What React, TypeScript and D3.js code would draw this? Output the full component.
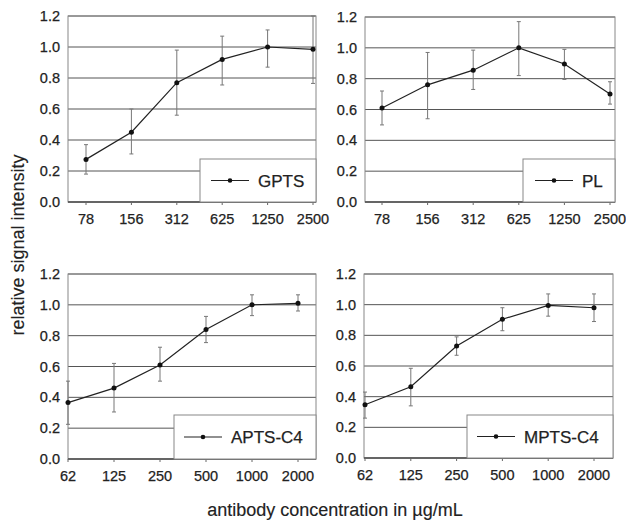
import React from "react";
import * as d3 from "d3";

// concentrations (x categories)
const ptsConc = ["78", "156", "312", "625", "1250", "2500"];
const c4Conc = ["62", "125", "250", "500", "1000", "2000"];
const yTicks = [0, 0.2, 0.4, 0.6, 0.8, 1.0, 1.2];

// GPTS
const gptsMean = [0.275, 0.45, 0.77, 0.92, 1.0, 0.985];
const gptsLow = [0.18, 0.31, 0.56, 0.755, 0.87, 0.765];
const gptsHigh = [0.37, 0.6, 0.98, 1.07, 1.11, 1.2];

// PL
const plMean = [0.61, 0.76, 0.855, 1.0, 0.895, 0.7];
const plLow = [0.5, 0.54, 0.73, 0.82, 0.795, 0.635];
const plHigh = [0.72, 0.97, 0.985, 1.17, 0.99, 0.78];

// APTS-C4
const aptsMean = [0.366, 0.46, 0.61, 0.84, 1.0, 1.01];
const aptsLow = [0.225, 0.305, 0.505, 0.755, 0.93, 0.96];
const aptsHigh = [0.505, 0.62, 0.725, 0.925, 1.065, 1.065];

// MPTS-C4
const mptsMean = [0.347, 0.465, 0.73, 0.905, 0.995, 0.98];
const mptsLow = [0.26, 0.34, 0.67, 0.83, 0.925, 0.89];
const mptsHigh = [0.43, 0.585, 0.79, 0.98, 1.07, 1.07];

const FONT = "'Liberation Sans', Arial, sans-serif";
const TXT = { fill: "#222", stroke: "#222", strokeWidth: 0.25, fontFamily: FONT };

type PanelProps = {
  name: string;
  cats: string[];
  mean: number[];
  low: number[];
  high: number[];
  plot: { x0: number; x1: number; y0: number; y1: number };
  pts: [number, number];
  legend: { x0: number; y0: number; lineX: number };
};

const Panel = ({ name, cats, mean, low, high, plot, pts, legend }: PanelProps) => {
  const x = d3.scalePoint<string>().domain(cats).range(pts);
  const y = d3.scaleLinear().domain([0, 1.2]).range([plot.y1, plot.y0]);
  const line = d3
    .line<number>()
    .x((_, i) => x(cats[i]) as number)
    .y((d) => y(d));
  const legY = (legend.y0 + plot.y1) / 2;

  return (
    <g>
      {/* gridlines */}
      {yTicks.map((t) => (
        <line key={t} x1={plot.x0} x2={plot.x1} y1={y(t)} y2={y(t)} stroke="#555" strokeWidth={1} />
      ))}
      {/* plot border */}
      <rect x={plot.x0} y={plot.y0} width={plot.x1 - plot.x0} height={plot.y1 - plot.y0} fill="none" stroke="#888" strokeWidth={1} />
      <line x1={plot.x0} x2={plot.x1} y1={plot.y1} y2={plot.y1} stroke="#333" strokeWidth={1.2} />
      {/* y tick labels */}
      {yTicks.map((t) => (
        <text key={t} x={plot.x0 - 8} y={y(t)} dy="0.35em" textAnchor="end" fontSize={14.5} {...TXT}>
          {t.toFixed(1)}
        </text>
      ))}
      {/* x ticks + labels */}
      {cats.map((c) => (
        <g key={c}>
          <line x1={x(c)} x2={x(c)} y1={plot.y1} y2={plot.y1 + 3} stroke="#666" />
          <text x={x(c)} y={plot.y1 + 22} textAnchor="middle" fontSize={14.5} {...TXT}>
            {c}
          </text>
        </g>
      ))}
      {/* legend box */}
      <rect x={legend.x0} y={legend.y0} width={plot.x1 - legend.x0} height={plot.y1 - legend.y0} fill="#fff" stroke="#888" strokeWidth={1} />
      <line x1={legend.lineX} x2={legend.lineX + 38} y1={legY} y2={legY} stroke="#222" strokeWidth={1.2} />
      <circle cx={legend.lineX + 19} cy={legY} r={2.3} fill="#111" />
      <text x={legend.lineX + 47} y={legY} dy="0.36em" fontSize={17} {...TXT}>
        {name}
      </text>
      {/* error bars */}
      {cats.map((c, i) => (
        <g key={c} stroke="#777" strokeWidth={1}>
          <line x1={x(c)} x2={x(c)} y1={y(low[i])} y2={y(high[i])} />
          <line x1={(x(c) as number) - 2} x2={(x(c) as number) + 2} y1={y(low[i])} y2={y(low[i])} />
          <line x1={(x(c) as number) - 2} x2={(x(c) as number) + 2} y1={y(high[i])} y2={y(high[i])} />
        </g>
      ))}
      {/* line + points */}
      <path d={line(mean) || ""} fill="none" stroke="#222" strokeWidth={1.2} />
      {mean.map((v, i) => (
        <circle key={i} cx={x(cats[i])} cy={y(v)} r={2.5} fill="#111" />
      ))}
    </g>
  );
};

export default function App() {
  return (
    <svg width={626} height={528} style={{ position: "absolute", left: 0, top: 0, background: "#fff" }}>
      <rect width={626} height={528} fill="#fff" />
      <Panel
        name="GPTS"
        cats={ptsConc}
        mean={gptsMean}
        low={gptsLow}
        high={gptsHigh}
        plot={{ x0: 68, x1: 316, y0: 16, y1: 202 }}
        pts={[86, 313]}
        legend={{ x0: 200, y0: 159, lineX: 211 }}
      />
      <Panel
        name="PL"
        cats={ptsConc}
        mean={plMean}
        low={plLow}
        high={plHigh}
        plot={{ x0: 365, x1: 615, y0: 17, y1: 202 }}
        pts={[382, 610]}
        legend={{ x0: 523, y0: 159, lineX: 535 }}
      />
      <Panel
        name="APTS-C4"
        cats={c4Conc}
        mean={aptsMean}
        low={aptsLow}
        high={aptsHigh}
        plot={{ x0: 68, x1: 316, y0: 274, y1: 459 }}
        pts={[68, 298]}
        legend={{ x0: 174, y0: 415, lineX: 184 }}
      />
      <Panel
        name="MPTS-C4"
        cats={c4Conc}
        mean={mptsMean}
        low={mptsLow}
        high={mptsHigh}
        plot={{ x0: 364, x1: 613, y0: 274, y1: 458 }}
        pts={[365, 594]}
        legend={{ x0: 467, y0: 415, lineX: 477 }}
      />
      <text transform="translate(24,245) rotate(-90)" textAnchor="middle" fontSize={18} {...TXT} strokeWidth={0.15}>
        relative signal intensity
      </text>
      <text x={335} y={516} textAnchor="middle" fontSize={18} {...TXT} strokeWidth={0.15}>
        antibody concentration in µg/mL
      </text>
    </svg>
  );
}
